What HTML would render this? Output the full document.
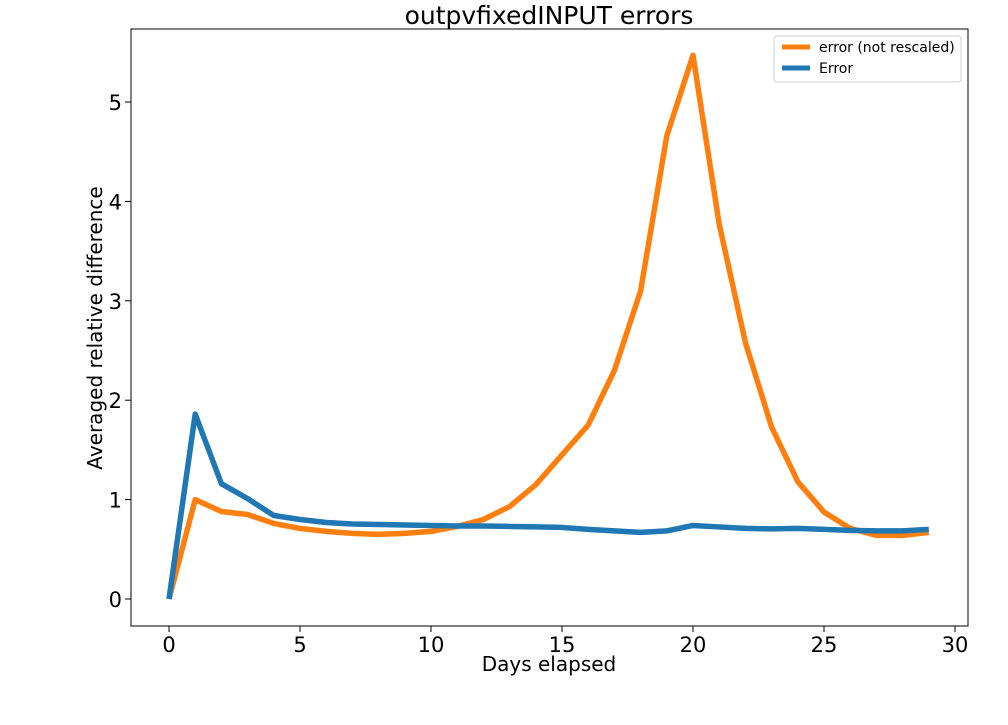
<!DOCTYPE html>
<html><head><meta charset="utf-8">
<style>
body{margin:0;background:#fff;}
svg text{font-family:"DejaVu Sans","Liberation Sans",sans-serif;fill:#000;}
</style></head>
<body>
<svg id="chart" width="1008" height="720" xmlns="http://www.w3.org/2000/svg">
<text x="549" y="24" font-size="25" text-anchor="middle">outpvfixedINPUT errors</text>
<g id="axes"></g>
<g id="series"></g>
<rect x="131" y="29" width="837" height="597" fill="none" stroke="#000" stroke-width="1"/>
<text x="549" y="671" font-size="20" text-anchor="middle">Days elapsed</text>
<text transform="translate(102,328) rotate(-90)" font-size="20" text-anchor="middle">Averaged relative difference</text>
<g>
<rect x="774" y="36" width="187" height="46" rx="3" fill="#fff" stroke="#ccc"/>
<line x1="782" y1="47" x2="810" y2="47" stroke="#ff7f0e" stroke-width="5"/>
<text x="819" y="52" font-size="14">error (not rescaled)</text>
<line x1="782" y1="68" x2="810" y2="68" stroke="#1f77b4" stroke-width="5"/>
<text x="819" y="73" font-size="14">Error</text>
</g>
</svg>
<script>
const days=[...Array(30).keys()];
const errNotRescaled=[0,1.0,0.88,0.85,0.76,0.71,0.68,0.66,0.65,0.66,0.68,0.73,0.80,0.93,1.15,1.45,1.75,2.30,3.10,4.66,5.47,3.77,2.58,1.73,1.18,0.875,0.71,0.64,0.64,0.67];
const errRescaled=[0,1.86,1.16,1.01,0.84,0.80,0.77,0.755,0.75,0.745,0.74,0.735,0.735,0.73,0.725,0.72,0.70,0.685,0.67,0.685,0.74,0.725,0.71,0.705,0.71,0.70,0.69,0.685,0.685,0.70];
const xTicks=[0,5,10,15,20,25,30];
const yTicks=[0,1,2,3,4,5];
const NS="http://www.w3.org/2000/svg";
const xs=v=>169+v*26.2;
const ys=v=>599-v*99.4;
const axes=document.getElementById('axes');
xTicks.forEach(t=>{
 const l=document.createElementNS(NS,'line');
 l.setAttribute('x1',xs(t));l.setAttribute('x2',xs(t));l.setAttribute('y1',626);l.setAttribute('y2',632);l.setAttribute('stroke','#000');
 
 
 axes.appendChild(l);
 const tx=document.createElementNS(NS,'text');
 tx.setAttribute('x',xs(t));tx.setAttribute('y',652);tx.setAttribute('font-size','21');tx.setAttribute('text-anchor','middle');tx.textContent=t;
 
 
 axes.appendChild(tx);
});
yTicks.forEach(t=>{
 const l=document.createElementNS(NS,'line');
 l.setAttribute('x1',125);l.setAttribute('x2',131);l.setAttribute('y1',ys(t));l.setAttribute('y2',ys(t));l.setAttribute('stroke','#000');
 
 
 axes.appendChild(l);
 const tx=document.createElementNS(NS,'text');
 tx.setAttribute('x',122);tx.setAttribute('y',ys(t)+8);tx.setAttribute('font-size','21');tx.setAttribute('text-anchor','end');tx.textContent=t;
 
 
 axes.appendChild(tx);
});
const series=document.getElementById('series');
function draw(vals,color,name){
 const p=document.createElementNS(NS,'polyline');
 p.setAttribute('points',vals.map((v,i)=>xs(days[i])+','+ys(v)).join(' '));
 p.setAttribute('fill','none');p.setAttribute('stroke',color);p.setAttribute('stroke-width','5.5');p.setAttribute('stroke-linejoin','round');
 
 
 series.appendChild(p);
}
draw(errNotRescaled,'#ff7f0e','line-error-not-rescaled');
draw(errRescaled,'#1f77b4','line-error');
</script>
</body></html>
